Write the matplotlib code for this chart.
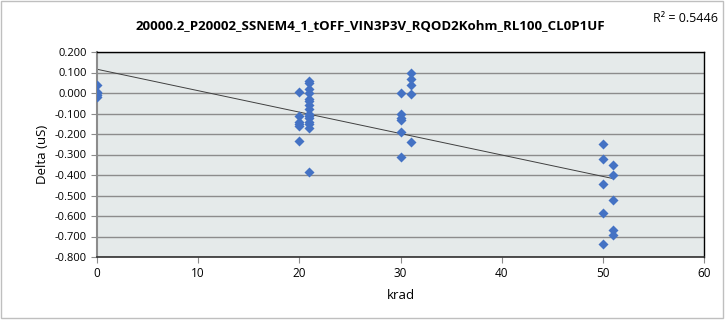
import matplotlib
matplotlib.use("Agg")
import matplotlib.pyplot as plt
import numpy as np
from matplotlib.patches import Rectangle

plt.rcParams['font.family'] = ['Open Sans', 'DejaVu Sans']

title = "20000.2_P20002_SSNEM4_1_tOFF_VIN3P3V_RQOD2Kohm_RL100_CL0P1UF"
r2_text = "R\u00b2 = 0.5446"
xlabel = "krad"
ylabel = "Delta (uS)"

x0 = [0, 0, 0, 0, 0]
y0 = [0.04, 0.005, 0.0, -0.01, -0.02]
x20 = [20] * 6
y20 = [0.005, -0.11, -0.14, -0.15, -0.16, -0.235]
x21 = [21] * 15
y21 = [0.06, 0.05, 0.02, 0.0, -0.03, -0.04, -0.06, -0.08, -0.10, -0.11,
       -0.12, -0.14, -0.15, -0.17, -0.385]
x30 = [30] * 6
y30 = [0.0, -0.10, -0.12, -0.13, -0.19, -0.31]
x31 = [31] * 5
y31 = [0.10, 0.07, 0.04, -0.005, -0.24]
x50 = [50] * 5
y50 = [-0.25, -0.32, -0.445, -0.585, -0.735]
x51 = [51] * 5
y51 = [-0.35, -0.40, -0.52, -0.67, -0.695]

xs = np.array(x0 + x20 + x21 + x30 + x31 + x50 + x51, dtype=float)
ys = np.array(y0 + y20 + y21 + y30 + y31 + y50 + y51, dtype=float)

fig = plt.figure(figsize=(7.27, 3.24), dpi=100)
fig.patch.set_facecolor('white')
W, H = 727, 324
ax = fig.add_axes([97 / W, 1 - 257 / H, (704 - 97) / W, (257 - 52) / H])
ax.set_facecolor('#E5EAEA')

ax.set_xlim(0, 60)
ax.set_ylim(-0.8, 0.2)
ax.set_xticks(np.arange(0, 61, 10))
yt = np.round(np.arange(-0.8, 0.2001, 0.1), 1)
ax.set_yticks(yt)
ax.set_yticklabels([f"{v + 0.0:.3f}" if abs(v) > 1e-9 else "0.000" for v in yt])
ax.yaxis.grid(True, color='#8C8C8C', linewidth=1.0)
ax.set_axisbelow(True)

coef = np.polyfit(xs, ys, 1)
xl = np.array([0, xs.max()])
ax.plot(xl, np.polyval(coef, xl), color='#404040', linewidth=0.7, zorder=2)

ax.scatter(xs, ys, marker='D', s=26, color='#4472C4', zorder=3, linewidths=0)

for s in ['top', 'right']:
    ax.spines[s].set_color('black')
    ax.spines[s].set_linewidth(1.0)
ax.spines['left'].set_color('#8C8C8C')
ax.spines['left'].set_linewidth(1.5)
ax.spines['bottom'].set_color('#303030')
ax.spines['bottom'].set_linewidth(1.2)
ax.tick_params(axis='both', labelsize=8, colors='black', length=4, width=0.8)
ax.tick_params(axis='x', color='#8C8C8C', labelsize=8.5)
ax.tick_params(axis='y', color='#8C8C8C', length=4)

ax.set_xlabel(xlabel, fontsize=9.5, labelpad=6)
ax.set_ylabel(ylabel, fontsize=9.5, labelpad=4)

fig.text(370 / W, 1 - 26 / H, title, fontsize=9.5, fontweight='bold',
         ha='center', va='center')
fig.text(718 / W, 1 - 18 / H, r2_text, fontsize=9, ha='right', va='center')

fig.patches.append(Rectangle((0.5 / W, 1 - 318 / H), 722 / W, 317.5 / H,
                             transform=fig.transFigure, fill=False,
                             edgecolor='#BFBFBF', linewidth=1.0))

fig.savefig("out.png", dpi=100)
